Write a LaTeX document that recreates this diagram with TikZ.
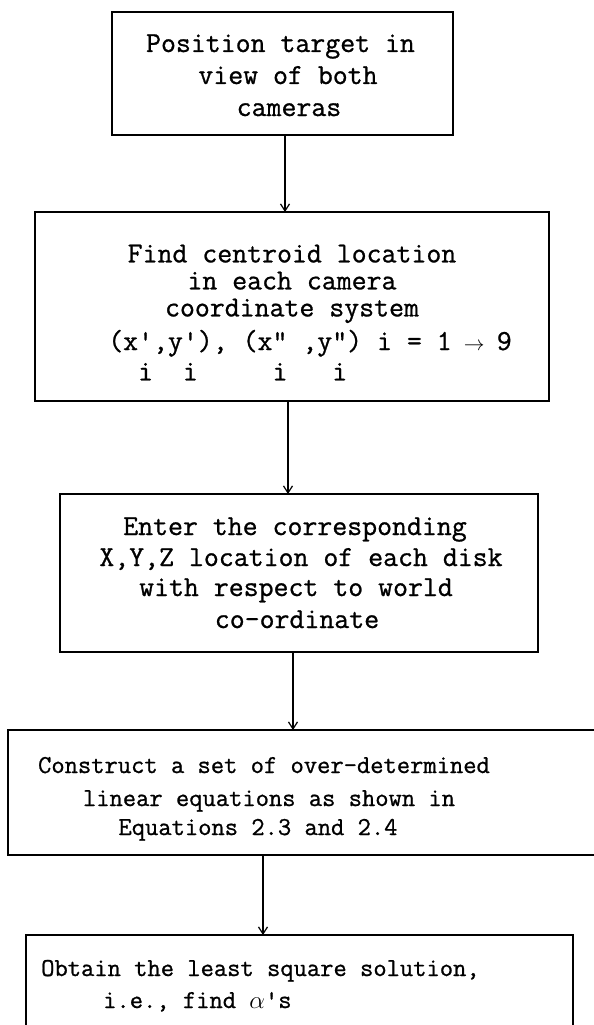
\documentclass[tikz,border=0pt]{standalone}
\usepackage{fontspec}
\newfontfamily\tw[FakeBold=0.9]{Latin Modern Mono}
\usetikzlibrary{arrows.meta}
\newcommand\stk[2]{\makebox[0pt][l]{\raisebox{-1.05em}{#2}}#1}
\begin{document}
\begin{tikzpicture}[x=1pt,y=-1pt,
  boxline/.style={line width=1.3pt, line cap=rect},
  shell/.style={rectangle, inner sep=0pt, outer sep=0pt},
  tbig/.style={inner sep=0pt, anchor=base, font=\tw\fontsize{29}{32}\selectfont},
  tsmall/.style={inner sep=0pt, anchor=base, font=\tw\fontsize{25.8}{31}\selectfont},
  arr/.style={line width=1.2pt, -{Straight Barb[length=7pt,width=9pt,line width=1.2pt]}}]
\useasboundingbox (0,0) rectangle (594,1025);
\fill[white] (0,0) rectangle (594,1025);

% box shells
\node[shell, draw, boxline, minimum width=341pt, minimum height=123pt] (b1) at (282.5,73.5) {};
\node[shell, draw, boxline, minimum width=514pt, minimum height=189pt] (b2) at (292,306.5) {};
\node[shell, draw, boxline, minimum width=478pt, minimum height=158pt] (b3) at (299,573) {};
\node[shell, minimum width=592pt, minimum height=125pt] (b4) at (304,792.5) {};
\node[shell, minimum width=547pt, minimum height=100pt] (b5) at (299.5,985) {};
\draw[boxline] (b4.north east) -- (b4.north west) -- (b4.south west) -- (b4.south east);
\draw[boxline] (b5.south west) -- (b5.north west) -- (b5.north east) -- (b5.south east);

% texts
\node[tbig] (t11) at (280.5,52) {Position target in};
\node[tbig] (t12) at (288,84) {view of both};
\node[tbig] (t13) at (289,116) {cameras};

\node[tbig, anchor=north, align=center, font=\tw\fontsize{29}{27}\selectfont] (t21) at (292,244.5)
  {Find centroid location\\in each camera\\coordinate system};
\node[tbig] (t24) at (310,350) {(x\stk{'}{i},y\stk{'}{i}), (x\stk{"}{i} ,y\stk{"}{i}) i = 1 \makebox[0.525em]{$\scriptstyle\rightarrow$} 9};

\node[tbig] (t31) at (295,535) {Enter the corresponding};
\node[tbig] (t32) at (301,566) {X,Y,Z location of each disk};
\node[tbig] (t33) at (296,596) {with respect to world};
\node[tbig] (t34) at (297,628) {co-ordinate};

\node[tsmall] (t41) at (264,773) {Construct a set of over-determined};
\node[tsmall] (t42) at (269,806) {linear equations as shown in};
\node[tsmall] (t43) at (258,835) {Equations 2.3 and 2.4};

\node[tsmall, anchor=base west] (t51) at (41,976) {Obtain the least square solution,};
\node[tsmall, anchor=base west] (t52) at (103,1008) {i.e., find $\alpha$'s};

% connectors
\coordinate (x1) at (285,0);
\coordinate (x2) at (288,0);
\coordinate (x3) at (293,0);
\coordinate (x4) at (263,0);
\draw[arr] (b1.south -| x1) -- (b2.north -| x1);
\draw[arr] (b2.south -| x2) -- (b3.north -| x2);
\draw[arr] (b3.south -| x3) -- (b4.north -| x3);
\draw[arr] (b4.south -| x4) -- (b5.north -| x4);
\end{tikzpicture}
\end{document}
